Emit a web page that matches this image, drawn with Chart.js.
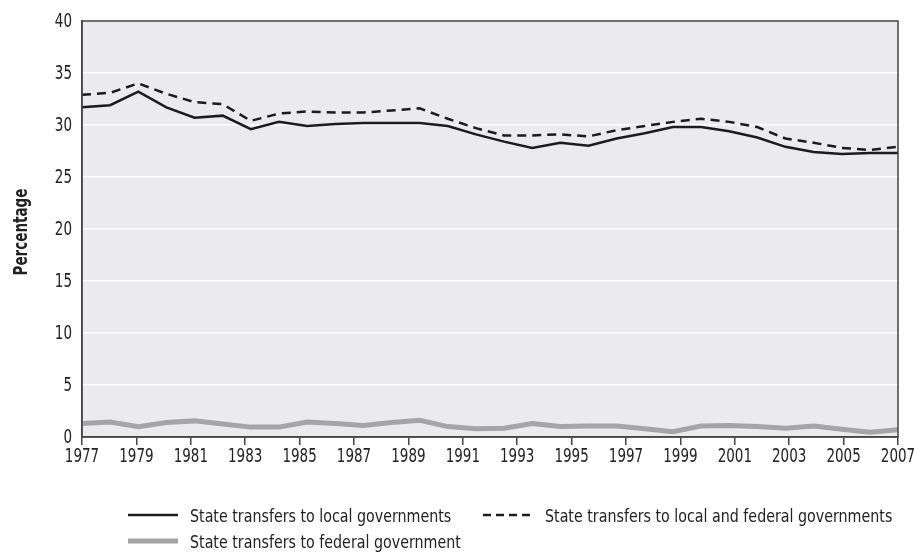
<!DOCTYPE html>
<html>
<head>
<meta charset="utf-8">
<script src="https://cdn.jsdelivr.net/npm/chart.js@4"></script>
<style>
  body { margin: 0; background: #fff; }
  #wrap { position: relative; width: 916px; height: 558px; }
  #legend { position: absolute; left: 0; top: 0; width: 916px; height: 558px; pointer-events: none;
            font-family: 'DejaVu Sans Condensed', sans-serif; font-size: 18px; color: #222; }
  .item { position: absolute; display: flex; align-items: center; white-space: nowrap; }
  .item svg { margin-right: 12px; }
  .item span { display: inline-block; transform: scaleX(0.88); transform-origin: left center; }
</style>
</head>
<body>
<div id="wrap">
  <canvas id="chart" width="916" height="558"></canvas>
  <div id="legend"></div>
</div>
<script>
const years = ['1977','1978','1979','1980','1981','1982','1983','1984','1985','1986',
  '1987','1988','1989','1990','1991','1992','1993','1994','1995','1996',
  '1997','1998','1999','2000','2001','2002','2003','2004','2005','2006'];

const localGov = [31.7, 31.9, 33.2, 31.7, 30.7, 30.9, 29.6, 30.3, 29.9, 30.1,
  30.2, 30.2, 30.2, 29.9, 29.1, 28.4, 27.8, 28.3, 28.0, 28.7,
  29.2, 29.8, 29.8, 29.4, 28.8, 27.9, 27.4, 27.2, 27.3, 27.3];

const localFederal = [32.9, 33.1, 34.0, 33.0, 32.2, 32.0, 30.4, 31.1, 31.3, 31.2,
  31.2, 31.4, 31.6, 30.6, 29.7, 29.0, 29.0, 29.1, 28.9, 29.5,
  29.9, 30.3, 30.6, 30.3, 29.8, 28.7, 28.3, 27.8, 27.6, 27.9];

const federalGov = [1.3, 1.45, 1.0, 1.4, 1.55, 1.25, 0.95, 0.95, 1.45, 1.3,
  1.1, 1.4, 1.6, 1.0, 0.8, 0.85, 1.3, 1.0, 1.05, 1.05,
  0.8, 0.5, 1.05, 1.1, 1.0, 0.85, 1.05, 0.75, 0.45, 0.7];

const axisMin = 1977, axisMax = 2007, axisStep = 2;
const yMin = 0, yMax = 40, yStep = 5;
const yTitle = 'Percentage';

const seriesNames = [
  'State transfers to local governments',
  'State transfers to local and federal governments',
  'State transfers to federal government'
];

const font = "'DejaVu Sans Condensed', sans-serif";
const ink = '#222';

// plot background + frame
const frame = {
  id: 'frame',
  beforeDraw(chart) {
    const { ctx, chartArea: a } = chart;
    ctx.save();
    ctx.fillStyle = '#ebebee';
    ctx.fillRect(a.left, a.top, a.right - a.left, a.bottom - a.top);
    ctx.restore();
  },
  afterDatasetsDraw(chart) {
    const { ctx, chartArea: a } = chart;
    ctx.save();
    ctx.strokeStyle = '#444';
    ctx.lineWidth = 1.5;
    ctx.strokeRect(a.left, a.top, a.right - a.left, a.bottom - a.top);
    ctx.restore();
  }
};

// tick labels + axis title in a narrow face (squeezed), placed by the scales
const narrowText = {
  id: 'narrowText',
  afterDraw(chart) {
    const { ctx, chartArea: a } = chart;
    const put = (txt, x, y, align, base, rot) => {
      ctx.save();
      ctx.translate(x, y);
      if (rot) ctx.rotate(rot);
      ctx.scale(0.75, 1);
      ctx.textAlign = align;
      ctx.textBaseline = base;
      ctx.fillText(txt, 0, 0);
      ctx.restore();
    };
    ctx.save();
    ctx.fillStyle = ink;
    ctx.font = '20px ' + font;
    const xs = chart.scales.x2;
    xs.ticks.forEach(t => put(String(t.value), xs.getPixelForValue(t.value), xs.top + 10, 'center', 'top'));
    const ys = chart.scales.y;
    ys.ticks.forEach(t => put(String(t.value), ys.right - 10, ys.getPixelForValue(t.value) + 1, 'right', 'middle'));
    ctx.font = 'bold 20px ' + font;
    put(yTitle, 22, (a.top + a.bottom) / 2 + 3, 'center', 'middle', -Math.PI / 2);
    ctx.restore();
  }
};

new Chart(document.getElementById('chart'), {
  type: 'line',
  data: {
    labels: years,
    datasets: [
      { label: seriesNames[2], data: federalGov, borderColor: '#a5a5a7', borderWidth: 5 },
      { label: seriesNames[0], data: localGov, borderColor: '#1c1c1c', borderWidth: 2.5 },
      { label: seriesNames[1], data: localFederal, borderColor: '#1c1c1c', borderWidth: 2.5, borderDash: [9, 6] }
    ]
  },
  options: {
    responsive: false,
    animation: false,
    events: [],
    layout: { padding: { left: 0, right: 18, top: 21, bottom: 81 } },
    elements: { point: { radius: 0 }, line: { tension: 0, fill: false } },
    plugins: { legend: { display: false }, tooltip: { enabled: false } },
    scales: {
      x: { type: 'category', display: false, offset: false },
      x2: {
        type: 'linear', position: 'bottom', min: axisMin, max: axisMax,
        afterFit: s => { s.height = 40; },
        border: { display: true, color: '#444', width: 1.5 },
        grid: { drawOnChartArea: false, drawTicks: true, tickLength: 8, color: '#444', lineWidth: 1.5 },
        ticks: { stepSize: axisStep, autoSkip: false, maxRotation: 0, color: 'rgba(0,0,0,0)',
                 font: { family: font, size: 6 } }
      },
      y: {
        min: yMin, max: yMax,
        afterFit: s => { s.width = 82; },
        border: { display: true, color: '#444', width: 1.5 },
        grid: { color: '#ffffff', lineWidth: 1.5, drawTicks: false },
        ticks: { stepSize: yStep, padding: 10, color: 'rgba(0,0,0,0)', font: { family: font, size: 6 } }
      }
    }
  },
  plugins: [frame, narrowText]
});

// legend
const legendItems = [
  { name: seriesNames[0], x: 128, y: 515, color: '#1c1c1c', w: 2.5, dash: '' },
  { name: seriesNames[1], x: 483, y: 515, color: '#1c1c1c', w: 2.5, dash: '8 5' },
  { name: seriesNames[2], x: 128, y: 541, color: '#a5a5a7', w: 5, dash: '' }
];
const legend = document.getElementById('legend');
legendItems.forEach(it => {
  const div = document.createElement('div');
  div.className = 'item';
  div.style.left = it.x + 'px';
  div.style.top = (it.y - 12) + 'px';
  div.style.height = '24px';
  div.innerHTML = `<svg width="50" height="8"><line x1="0" y1="4" x2="50" y2="4" stroke="${it.color}"
    stroke-width="${it.w}" stroke-dasharray="${it.dash}"/></svg><span>${it.name}</span>`;
  legend.appendChild(div);
});
</script>
</body>
</html>
